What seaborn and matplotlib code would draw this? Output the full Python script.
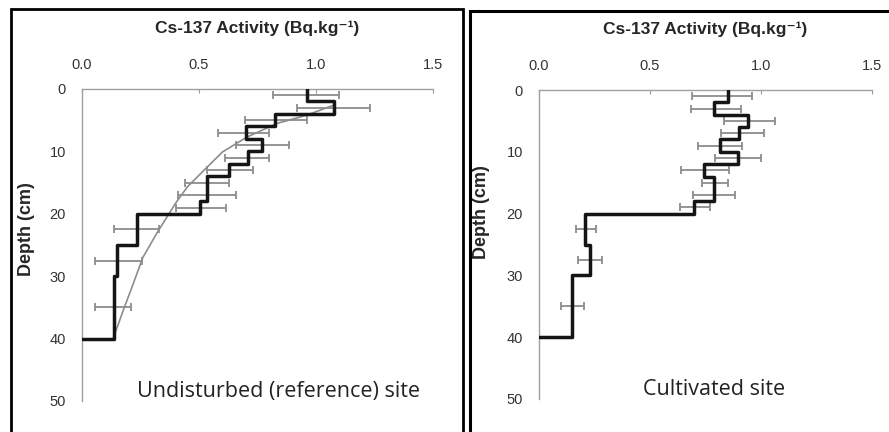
import numpy as np
import pandas as pd
import matplotlib.pyplot as plt
import matplotlib.patches as mpatches
import seaborn as sns

# Layer boundaries (cm)
layer_top = [0, 2, 4, 6, 8, 10, 12, 14, 16, 18, 20, 25, 30]
layer_bottom = [2, 4, 6, 8, 10, 12, 14, 16, 18, 20, 25, 30, 40]
layer_mid = [1, 3, 5, 7, 9, 11, 13, 15, 17, 19, 22.5, 27.5, 35]

# Undisturbed (reference) site
ref_activity = [0.96, 1.075, 0.825, 0.70, 0.77, 0.71, 0.63, 0.535, 0.535, 0.505, 0.235, 0.15, 0.135]
ref_err_low = [0.815, 0.92, 0.695, 0.58, 0.66, 0.61, 0.535, 0.44, 0.41, 0.40, 0.135, 0.056, 0.056]
ref_err_high = [1.10, 1.23, 0.96, 0.80, 0.885, 0.80, 0.73, 0.63, 0.66, 0.615, 0.33, 0.255, 0.21]

# fitted curve
fit_depth = [2.6, 4.2, 5.5, 7.7, 10.1, 12.7, 15.7, 18.3, 20.7, 23.1, 27.0, 31.1, 35.5, 40.0]
fit_activity = [1.075, 0.96, 0.835, 0.705, 0.60, 0.53, 0.45, 0.40, 0.36, 0.32, 0.26, 0.22, 0.176, 0.133]

# Cultivated site
cult_activity = [0.85, 0.79, 0.94, 0.90, 0.815, 0.895, 0.745, 0.79, 0.79, 0.70, 0.207, 0.23, 0.15]
cult_err_low = [0.69, 0.685, 0.835, 0.82, 0.718, 0.793, 0.64, 0.733, 0.695, 0.635, 0.165, 0.177, 0.10]
cult_err_high = [0.958, 0.91, 1.063, 1.015, 0.913, 1.0, 0.855, 0.85, 0.883, 0.77, 0.255, 0.282, 0.204]

x_ticks = [0.0, 0.5, 1.0, 1.5]
y_ticks = [0, 10, 20, 30, 40, 50]

TITLE = "Cs-137 Activity (Bq.kg\u207b\u00b9)"


def step_frame(values):
    rows = []
    for v, t, b in zip(values, layer_top, layer_bottom):
        rows.append((v, t))
        rows.append((v, b))
    rows.append((0.0, layer_bottom[-1]))
    return pd.DataFrame(rows, columns=["activity", "depth"])


def draw_panel(ax, values, lo, hi, label, label_x, ylab_pos, curve=None):
    values = np.array(values)
    lo = np.array(lo)
    hi = np.array(hi)
    centre = (lo + hi) / 2
    ax.errorbar(centre, layer_mid, xerr=(hi - lo) / 2, fmt="none",
                ecolor="#8c8c8c", elinewidth=1.3, capsize=3.2, capthick=1.3, zorder=2)
    if curve is not None:
        sns.lineplot(x=curve[1], y=curve[0], ax=ax, color="#8c8c8c", lw=1.2,
                     sort=False, estimator=None, zorder=3)
    sns.lineplot(data=step_frame(values), x="activity", y="depth", ax=ax,
                 color="#151515", lw=2.5, sort=False, estimator=None, zorder=4)

    ax.set_xlim(0, 1.5)
    ax.set_ylim(50, 0)
    ax.set_xticks(x_ticks)
    ax.set_xticklabels([f"{t:.1f}" for t in x_ticks])
    ax.set_yticks(y_ticks)
    ax.xaxis.tick_top()
    ax.xaxis.set_label_position("top")
    ax.tick_params(axis="x", direction="in", length=3, width=0.8, color="#999999",
                   pad=12, labelsize=10.5, labelcolor="#333333")
    ax.tick_params(axis="y", direction="out", length=3.5, width=0.8, color="#999999",
                   pad=8, labelsize=10.5, labelcolor="#333333")
    for side in ["right", "bottom"]:
        ax.spines[side].set_visible(False)
    for side in ["top", "left"]:
        ax.spines[side].set_color("#a0a0a0")
        ax.spines[side].set_linewidth(1.0)
    ax.set_title(TITLE, fontsize=12.5, fontweight="bold", pad=40,
                 family=["Liberation Sans", "DejaVu Sans"])
    ax.set_xlabel("")
    ax.set_ylabel("Depth (cm)", fontsize=13, fontweight="bold")
    ax.yaxis.set_label_coords(*ylab_pos)
    ax.text(label_x, 48.4, label, ha="center", va="center", fontsize=15.5,
            family="Open Sans", color="#222222")


sns.set_style("white")
plt.rcParams["font.family"] = ["Liberation Sans", "DejaVu Sans"]

fig = plt.figure(figsize=(8.89, 4.32), dpi=100)
ax1 = fig.add_axes([82 / 889, 1 - 401 / 432, 351 / 889, 312 / 432])
ax2 = fig.add_axes([539 / 889, 1 - 399 / 432, 333 / 889, 309 / 432])

draw_panel(ax1, ref_activity, ref_err_low, ref_err_high,
           "Undisturbed (reference) site", 0.84, (-0.134, 0.551),
           curve=(fit_depth, fit_activity))
draw_panel(ax2, cult_activity, cult_err_low, cult_err_high,
           "Cultivated site", 0.79, (-0.147, 0.605))

# panel frames
fig.add_artist(mpatches.Rectangle((11 / 889, -0.1), 452 / 889, 1.1 - 9.5 / 432,
                                  transform=fig.transFigure, fill=False,
                                  edgecolor="black", lw=2.0))
fig.add_artist(mpatches.Rectangle((470 / 889, -0.1), 0.5, 1.1 - 11 / 432,
                                  transform=fig.transFigure, fill=False,
                                  edgecolor="black", lw=2.2))

fig.savefig("out.png", dpi=100)
